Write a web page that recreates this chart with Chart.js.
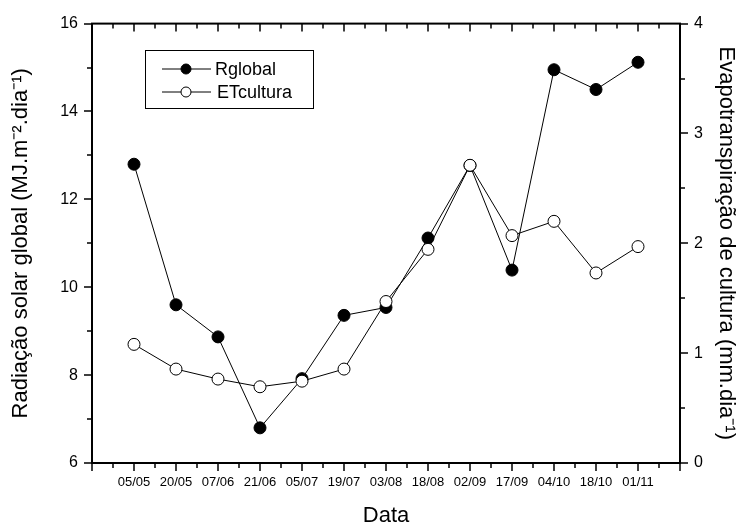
<!DOCTYPE html>
<html>
<head>
<meta charset="utf-8">
<script src="https://cdn.jsdelivr.net/npm/chart.js@4.4.1/dist/chart.umd.min.js"></script>
<style>
  html, body { margin: 0; padding: 0; background: #fff; }
  #wrap { width: 749px; height: 529px; }
</style>
</head>
<body>
<div id="wrap"><canvas id="chart1"></canvas></div>
<script>

const dates = ['05/05', '20/05', '07/06', '21/06', '05/07', '19/07', '03/08', '18/08', '02/09', '17/09', '04/10', '18/10', '01/11']
const rglobal = [12.8, 9.6, 8.87, 6.8, 7.92, 9.36, 9.54, 11.12, 12.77, 10.39, 14.95, 14.5, 15.12]
const etcultura = [1.08, 0.855, 0.764, 0.694, 0.745, 0.855, 1.47, 1.945, 2.71, 2.07, 2.2, 1.73, 1.97]

const leftTicks = [6, 8, 10, 12, 14, 16]
const rightTicks = [0, 1, 2, 3, 4]

const font = 'Liberation Sans, Arial, sans-serif'

// ticks of the frame: long ones on labelled values, short ones in between
const frameTicks = {
  id: 'frameTicks',
  afterDraw(chart) {
    const { ctx, chartArea: a, scales } = chart
    ctx.save()
    ctx.strokeStyle = '#000'
    ctx.lineWidth = 1.5
    ctx.beginPath()
    for (let v = -1; v <= dates.length; v += 0.5) {
      const x = Math.round(scales.x.getPixelForValue(v))
      const len = Number.isInteger(v) ? 8 : 5
      ctx.moveTo(x, a.bottom); ctx.lineTo(x, a.bottom + len)
      ctx.moveTo(x, a.top); ctx.lineTo(x, a.top + len)
    }
    for (let v = 6; v <= 16; v += 1) {
      const y = Math.round(scales.y.getPixelForValue(v))
      const len = v % 2 === 0 ? 8 : 5
      ctx.moveTo(a.left, y); ctx.lineTo(a.left - len, y)
    }
    for (let v = 0; v <= 4; v += 0.5) {
      const y = Math.round(scales.y2.getPixelForValue(v))
      const len = Number.isInteger(v) ? 8 : 5
      ctx.moveTo(a.right, y); ctx.lineTo(a.right + len, y)
    }
    ctx.stroke()
    ctx.lineWidth = 2
    ctx.strokeRect(a.left, a.top, a.right - a.left, a.bottom - a.top)
    ctx.restore()
  }
}

// boxed legend inside the plot, top left
const boxLegend = {
  id: 'boxLegend',
  afterDraw(chart) {
    const { ctx } = chart
    const items = chart.data.datasets.slice().sort((p, q) => q.order - p.order)
    ctx.save()
    ctx.strokeStyle = '#000'
    ctx.lineWidth = 1
    ctx.strokeRect(145.5, 50.5, 168, 58)
    ctx.font = '18px ' + font
    ctx.textBaseline = 'middle'
    items.forEach((ds, i) => {
      const y = 69 + i * 23
      ctx.beginPath()
      ctx.moveTo(162, y); ctx.lineTo(211, y)
      ctx.stroke()
      ctx.beginPath()
      ctx.arc(186, y, 5, 0, Math.PI * 2)
      ctx.fillStyle = ds.pointBackgroundColor
      ctx.fill()
      ctx.stroke()
      ctx.fillStyle = '#000'
      ctx.fillText(ds.label, 215 + i * 2, y + 1)
    })
    ctx.restore()
  }
}

const data = {
  datasets: [{
    label: 'Rglobal',
    data: rglobal.map((v, i) => ({ x: i, y: v })),
    yAxisID: 'y',
    borderColor: '#000',
    borderWidth: 1,
    pointRadius: 6,
    pointBackgroundColor: '#000',
    pointBorderColor: '#000',
    pointBorderWidth: 1,
    order: 1
  }, {
    label: 'ETcultura',
    data: etcultura.map((v, i) => ({ x: i, y: v })),
    yAxisID: 'y2',
    borderColor: '#000',
    borderWidth: 1,
    pointRadius: 6,
    pointBackgroundColor: '#fff',
    pointBorderColor: '#000',
    pointBorderWidth: 1,
    order: 0
  }]
}

const options = {
  responsive: true,
  maintainAspectRatio: false,
  animation: false,
  layout: { padding: { top: 23, left: 0, right: 0, bottom: 0 } },
  plugins: {
    legend: { display: false },
    tooltip: { enabled: false }
  },
  scales: {
    x: {
      type: 'linear',
      position: 'bottom',
      min: -1,
      max: dates.length,
      afterFit: s => { s.height = 66 },
      afterBuildTicks: s => { s.ticks = dates.map((d, i) => ({ value: i })) },
      ticks: {
        autoSkip: false,
        maxRotation: 0,
        padding: 12,
        color: '#000',
        font: { family: font, size: 13 },
        callback: v => dates[v] ?? ''
      },
      grid: { display: false, drawTicks: false },
      border: { display: false },
      title: {
        display: true,
        text: 'Data',
        color: '#000',
        font: { family: font, size: 22 },
        padding: { top: 0, bottom: 0 }
      }
    },
    y: {
      position: 'left',
      min: 6,
      max: 16,
      afterFit: s => { s.width = 92 },
      afterBuildTicks: s => { s.ticks = leftTicks.map(v => ({ value: v })) },
      ticks: {
        padding: 14,
        color: '#000',
        font: { family: font, size: 16 }
      },
      grid: { display: false, drawTicks: false },
      border: { display: false },
      title: {
        display: true,
        text: 'Radiação solar global (MJ.m⁻².dia⁻¹)',
        color: '#000',
        font: { family: font, size: 22 },
        padding: { top: 8, bottom: 0 }
      }
    },
    y2: {
      position: 'right',
      min: 0,
      max: 4,
      afterFit: s => { s.width = 69 },
      afterBuildTicks: s => { s.ticks = rightTicks.map(v => ({ value: v })) },
      ticks: {
        padding: 14,
        color: '#000',
        font: { family: font, size: 16 }
      },
      grid: { display: false, drawTicks: false },
      border: { display: false },
      title: {
        display: true,
        text: 'Evapotranspiração de cultura (mm.dia⁻¹)',
        color: '#000',
        font: { family: font, size: 22 },
        padding: { top: 10, bottom: 0 }
      }
    }
  }
}

new Chart('chart1', {
  type: 'line',
  data,
  options,
  plugins: [frameTicks, boxLegend]
})

</script>
</body>
</html>
